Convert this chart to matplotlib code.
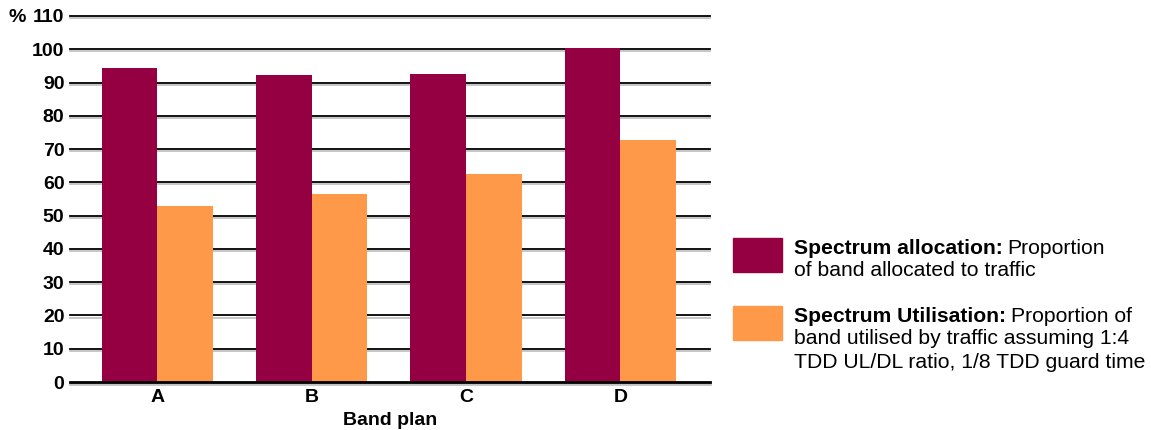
import numpy as np
import matplotlib
matplotlib.use("Agg")
import matplotlib.pyplot as plt
import matplotlib.patheffects as pe

# Data
plans = ["A", "B", "C", "D"]
allocation = [94.4, 92.3, 92.6, 100.4]
utilisation = [52.9, 56.5, 62.5, 72.8]
y_ticks = [0, 10, 20, 30, 40, 50, 60, 70, 80, 90, 100, 110]

maroon = "#940041"
orange = "#FF994A"

plt.rcParams['font.family'] = ['Liberation Sans', 'DejaVu Sans']

fig = plt.figure(figsize=(11.51, 4.30), dpi=100)
ax = fig.add_axes([0.0608, 0.1116, 0.556, 0.8512])

x = np.arange(len(plans))
w = 0.36
ax.bar(x - w / 2, allocation, w, color=maroon, zorder=3)
ax.bar(x + w / 2, utilisation, w, color=orange, zorder=3)

ax.set_xlim(-0.565, 3.58)
ax.set_ylim(0, 110)
ax.set_yticks(y_ticks)
ax.set_xticks(x)
ax.set_xticklabels(plans)

# gridlines with a soft grey shadow under each one
shadow = [pe.SimpleLineShadow(offset=(0, -1.5), shadow_color="#999999", alpha=0.6), pe.Normal()]
for v in y_ticks:
    lw = 2.0 if v == 0 else 1.3
    ax.axhline(v, color="black", lw=lw, zorder=2 if v else 4, clip_on=False,
               path_effects=shadow)

for s in ax.spines.values():
    s.set_visible(False)
ax.tick_params(axis="y", length=0, labelsize=14, pad=4)
ax.tick_params(axis="x", length=0, labelsize=14, pad=5)
for lab in ax.get_yticklabels() + ax.get_xticklabels():
    lab.set_fontweight("bold")

ax.text(-0.069, 110, "%", transform=ax.get_yaxis_transform(), ha="right",
        va="center_baseline", fontsize=14, fontweight="bold")
ax.set_xlabel("Band plan", fontsize=14, fontweight="bold", labelpad=4)

# legend on the right
fs = 15.2
fig.patches.append(plt.Rectangle((733 / 1151, 1 - 272 / 430), 49 / 1151, 34 / 430,
                                 transform=fig.transFigure, color=maroon))
fig.patches.append(plt.Rectangle((733 / 1151, 1 - 340 / 430), 49 / 1151, 34 / 430,
                                 transform=fig.transFigure, color=orange))

tx = 794 / 1151
lh = 23 / 430
t = fig.text(tx, 1 - 248 / 430, "Spectrum allocation:", fontsize=fs, fontweight="bold", va="center")
fig.canvas.draw()
bb = t.get_window_extent()
fig.text(bb.x1 / 1151 + 0.004, 1 - 248 / 430, "Proportion", fontsize=fs, va="center")
fig.text(tx, 1 - 248 / 430 - lh, "of band allocated to traffic", fontsize=fs, va="center")

t2 = fig.text(tx, 1 - 316 / 430, "Spectrum Utilisation:", fontsize=fs, fontweight="bold", va="center")
fig.canvas.draw()
bb2 = t2.get_window_extent()
fig.text(bb2.x1 / 1151 + 0.004, 1 - 316 / 430, "Proportion of", fontsize=fs, va="center")
fig.text(tx, 1 - 316 / 430 - lh, "band utilised by traffic assuming 1:4", fontsize=fs, va="center")
fig.text(tx, 1 - 316 / 430 - 2 * lh, "TDD UL/DL ratio, 1/8 TDD guard time", fontsize=fs, va="center")

fig.savefig("out.png", dpi=100)
